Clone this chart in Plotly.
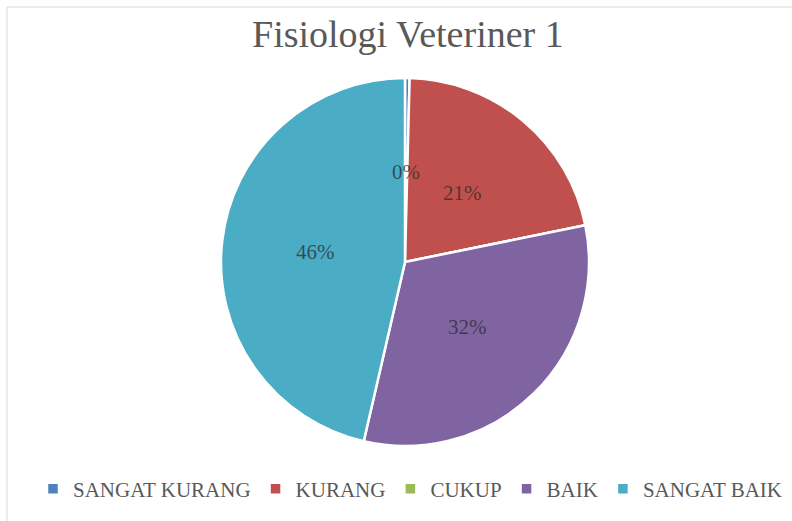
import math
import plotly.graph_objects as go

categories = ["SANGAT KURANG", "KURANG", "CUKUP", "BAIK", "SANGAT BAIK"]
values = [0.4, 21.4, 0, 31.8, 46.4]
colors = ["#4F81BD", "#C0504D", "#9BBB59", "#8064A2", "#4BACC6"]
title_text = "Fisiologi Veteriner 1"

W, H = 792, 521
cx, cy, R = 405, 262, 184
FONT = "Liberation Serif"

fig = go.Figure()
fig.add_trace(go.Pie(
    labels=categories,
    values=values,
    marker=dict(colors=colors, line=dict(color="white", width=2.5)),
    sort=False,
    direction="clockwise",
    rotation=0,
    textinfo="none",
    hoverinfo="label+percent",
    domain=dict(x=[(cx - R) / W, (cx + R) / W], y=[1 - (cy + R) / H, 1 - (cy - R) / H]),
))

# data labels, placed at the middle of each slice like the original
total = sum(values)
annotations = []
cum = 0.0
for cat, v in zip(categories, values):
    if v > 0:
        mid = (cum + v / 2) / total * 2 * math.pi
        px = cx + 0.49 * R * math.sin(mid)
        py = cy - 0.49 * R * math.cos(mid)
        annotations.append(dict(
            x=px / W, y=1 - py / H, xref="paper", yref="paper",
            text=f"{round(v / total * 100)}%", showarrow=False,
            font=dict(family=FONT, size=21, color="rgba(40,40,40,0.72)"),
            xanchor="center", yanchor="middle",
        ))
    cum += v

annotations.append(dict(
    x=408 / W, y=1 - 34 / H, xref="paper", yref="paper", text=title_text,
    showarrow=False, font=dict(family=FONT, size=38, color="#595959"),
    xanchor="center", yanchor="middle",
))

fig.update_layout(
    width=W, height=H,
    margin=dict(l=0, r=0, t=0, b=0, autoexpand=False),
    paper_bgcolor="white",
    plot_bgcolor="white",
    annotations=annotations,
    showlegend=True,
    legend=dict(
        orientation="h", x=410 / W, y=1 - 489 / H, xanchor="center", yanchor="middle",
        font=dict(family=FONT, size=21, color="#595959"),
        itemclick=False, traceorder="normal", itemwidth=30,
    ),
    shapes=[dict(
        type="rect", xref="paper", yref="paper",
        x0=7 / W, x1=1.02, y0=-0.02, y1=1 - 7 / H,
        line=dict(color="#D9D9D9", width=1), fillcolor="rgba(0,0,0,0)",
    )],
)

fig.write_html("out.html", config={"displayModeBar": False},
               post_script="document.body.style.margin='0';")
